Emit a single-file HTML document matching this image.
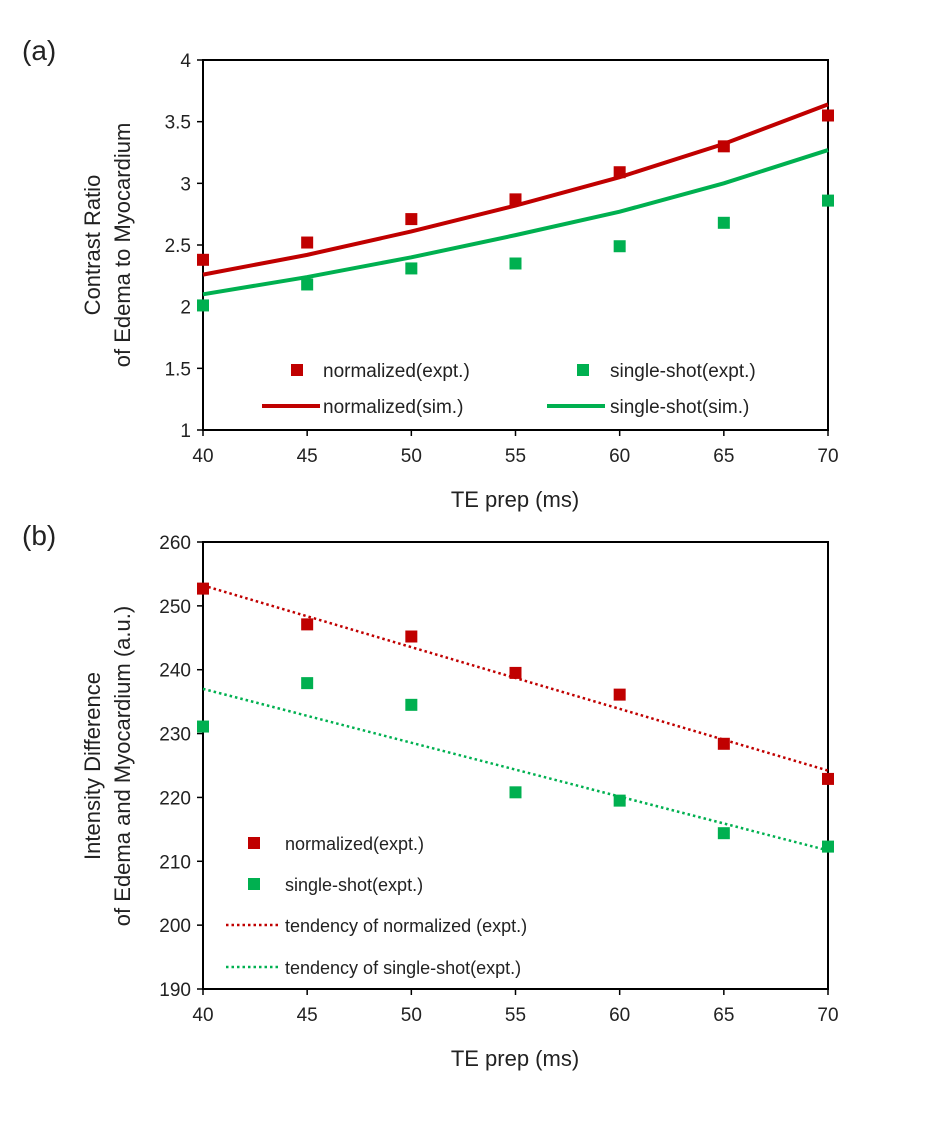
<!DOCTYPE html>
<html><head><meta charset="utf-8"><style>
body{margin:0;background:#fff}
svg text{font-family:"Liberation Sans",sans-serif;fill:#222}
</style></head><body>
<svg id="chart" width="942" height="1116" xmlns="http://www.w3.org/2000/svg">
<text x="22" y="60" font-size="28">(a)</text>
<text x="22" y="545" font-size="28">(b)</text>
<g id="a"></g><g id="b"></g>
</svg>
<script>
const xCats=[40,45,50,55,60,65,70];
const aRedExpt=[2.38,2.52,2.71,2.87,3.09,3.30,3.55];
const aGreenExpt=[2.01,2.18,2.31,2.35,2.49,2.68,2.86];
const aRedSim=[2.26,2.42,2.61,2.82,3.05,3.32,3.64];
const aGreenSim=[2.10,2.24,2.40,2.58,2.77,3.00,3.27];
const aTicks=[1,1.5,2,2.5,3,3.5,4];
const bRedExpt=[252.7,247.1,245.2,239.5,236.1,228.4,222.9];
const bGreenExpt=[231.1,237.9,234.5,220.8,219.5,214.4,212.3];
const bRedTrend=[253.2,224.2];
const bGreenTrend=[237.0,211.7];
const bTicks=[190,200,210,220,230,240,250,260];
const RED='#c00000',GREEN='#00b050',NS='http://www.w3.org/2000/svg';
function mk(p,t,at){const e=document.createElementNS(NS,t);for(const k in at)e.setAttribute(k,at[k]);p.appendChild(e);return e;}
const X0=203,X1=828;
const xs=v=>X0+(v-40)/30*(X1-X0);
function panel(g,top,bot,ymin,ymax,ticks,fmt){
 const ys=v=>bot-(v-ymin)/(ymax-ymin)*(bot-top);
 const fr=mk(g,'rect',{x:X0,y:top,width:X1-X0,height:bot-top,fill:'none',stroke:'#000','stroke-width':2});
 
 
 ticks.forEach(t=>{const y=ys(t);
  const l=mk(g,'line',{x1:X0-6,x2:X0,y1:y,y2:y,stroke:'#000','stroke-width':1.5});
  
  
  const tx=mk(g,'text',{x:X0-12,y:y+7,'font-size':19,'text-anchor':'end'});tx.textContent=fmt(t);
  
  });
 xCats.forEach(c=>{const x=xs(c);
  const l=mk(g,'line',{x1:x,x2:x,y1:bot,y2:bot+6,stroke:'#000','stroke-width':1.5});
  
  
  const tx=mk(g,'text',{x:x,y:bot+32,'font-size':19,'text-anchor':'middle'});tx.textContent=c;
  
  });
 const xt=mk(g,'text',{x:515,y:bot+77,'font-size':22,'text-anchor':'middle'});xt.textContent='TE prep (ms)';
 
 
 return ys;}
function sq(g,x,y,c,name){const r=mk(g,'rect',{x:x-6,y:y-6,width:12,height:12,fill:c});
 
 }
function txt(g,x,y,s,size,name,extra){const t=mk(g,'text',Object.assign({x:x,y:y,'font-size':size},extra||{}));t.textContent=s;
 
 return t;}
// panel a
const ga=document.getElementById('a');
const ysa=panel(ga,60,430,1,4,aTicks,t=>String(t));
[[aRedSim,RED,'line-normalized-sim'],[aGreenSim,GREEN,'line-single-shot-sim']].forEach(([d,c,n])=>{
 const p=mk(ga,'polyline',{points:d.map((v,i)=>xs(xCats[i])+','+ysa(v)).join(' '),fill:'none',stroke:c,'stroke-width':4});
 
 });
aRedExpt.forEach((v,i)=>sq(ga,xs(xCats[i]),ysa(v),RED,'point-normalized-expt'));
aGreenExpt.forEach((v,i)=>sq(ga,xs(xCats[i]),ysa(v),GREEN,'point-single-shot-expt'));
sq(ga,297,370,RED,'legend-normalized-expt-marker');txt(ga,323,377,'normalized(expt.)',19,'legend-normalized-expt');
sq(ga,583,370,GREEN,'legend-single-shot-expt-marker');txt(ga,610,377,'single-shot(expt.)',19,'legend-single-shot-expt');
let l=mk(ga,'line',{x1:262,x2:320,y1:406,y2:406,stroke:RED,'stroke-width':4});


txt(ga,323,413,'normalized(sim.)',19,'legend-normalized-sim');
l=mk(ga,'line',{x1:547,x2:605,y1:406,y2:406,stroke:GREEN,'stroke-width':4});


txt(ga,610,413,'single-shot(sim.)',19,'legend-single-shot-sim');
txt(ga,0,0,'Contrast Ratio',22,'y-axis-title-line1',{'text-anchor':'middle',transform:'translate(100,245) rotate(-90)'});
txt(ga,0,0,'of Edema to Myocardium',22,'y-axis-title-line2',{'text-anchor':'middle',transform:'translate(130,245) rotate(-90)'});
// panel b
const gb=document.getElementById('b');
const ysb=panel(gb,542,989,190,260,bTicks,t=>String(t));
[[bRedTrend,RED,'trend-normalized'],[bGreenTrend,GREEN,'trend-single-shot']].forEach(([d,c,n])=>{
 const p=mk(gb,'line',{x1:xs(40),y1:ysb(d[0]),x2:xs(70),y2:ysb(d[1]),stroke:c,'stroke-width':2.5,'stroke-dasharray':'2.5 3'});
 
 });
bRedExpt.forEach((v,i)=>sq(gb,xs(xCats[i]),ysb(v),RED,'point-normalized-expt'));
bGreenExpt.forEach((v,i)=>sq(gb,xs(xCats[i]),ysb(v),GREEN,'point-single-shot-expt'));
sq(gb,254,843,RED,'legend-normalized-expt-marker');txt(gb,285,850,'normalized(expt.)',18,'legend-normalized-expt');
sq(gb,254,884,GREEN,'legend-single-shot-expt-marker');txt(gb,285,891,'single-shot(expt.)',18,'legend-single-shot-expt');
l=mk(gb,'line',{x1:226,x2:280,y1:925,y2:925,stroke:RED,'stroke-width':2.5,'stroke-dasharray':'2.5 3'});


txt(gb,285,932,'tendency of normalized (expt.)',18,'legend-trend-normalized');
l=mk(gb,'line',{x1:226,x2:280,y1:967,y2:967,stroke:GREEN,'stroke-width':2.5,'stroke-dasharray':'2.5 3'});


txt(gb,285,974,'tendency of single-shot(expt.)',18,'legend-trend-single-shot');
txt(gb,0,0,'Intensity Difference',22,'y-axis-title-line1',{'text-anchor':'middle',transform:'translate(100,766) rotate(-90)'});
txt(gb,0,0,'of Edema and Myocardium  (a.u.)',22,'y-axis-title-line2',{'text-anchor':'middle',transform:'translate(130,766) rotate(-90)'});
</script>
</body></html>
